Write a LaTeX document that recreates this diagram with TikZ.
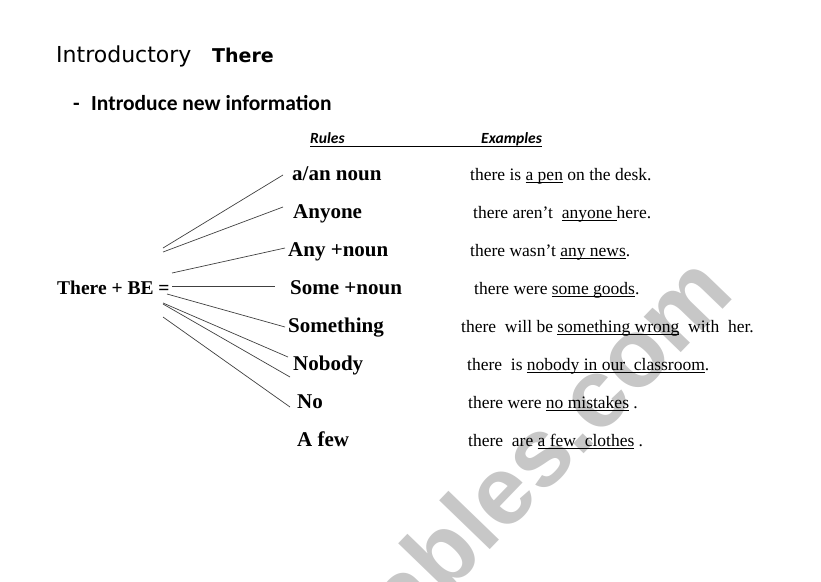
\documentclass[tikz,border=0pt]{standalone}
\usepackage{fontspec}
\setmainfont{Liberation Serif}
\newfontfamily\calfont{Carlito}
\newfontfamily\handfont{DejaVu Sans}
\newfontfamily\wmfont{Liberation Sans}
\usetikzlibrary{calc}
\newcommand\ulx[1]{\setbox0\hbox{#1}\rlap{\rule[-2.4pt]{\wd0}{0.8pt}}\box0\relax}
\begin{document}
\begin{tikzpicture}[x=1pt,y=-1pt,
  rule/.style={anchor=base west, inner sep=0pt, font=\fontsize{21}{25}\selectfont\bfseries},
  ex/.style={anchor=base west, inner sep=0pt, font=\fontsize{17.5}{21}\selectfont},
  hdr/.style={anchor=base west, inner sep=0pt, font=\calfont\fontsize{15.5}{18}\selectfont\bfseries\itshape},
  conn/.style={draw=black!75, line width=0.7pt}]
\useasboundingbox (0,0) rectangle (821,581);
\begin{scope}
\clip (0,0) rectangle (821,581);
\node[anchor=base east, rotate=46, inner sep=0pt, text=black!22,
  font=\wmfont\fontsize{97}{100}\selectfont\bfseries] (wm) at (737,295) {eslprintables.com};
\end{scope}
% title
\node[anchor=base west, inner sep=0pt, font=\handfont\fontsize{22}{26}\selectfont] (title) at (56,62) {Introductory};
\node[anchor=base west, inner sep=0pt, font=\handfont\fontsize{19}{22}\selectfont\bfseries] (there) at (212,62) {There};
\node[anchor=base west, inner sep=0pt, font=\calfont\fontsize{21.5}{25}\selectfont\bfseries] (dash) at (73,110) {-};
\node[anchor=base west, inner sep=0pt, font=\calfont\fontsize{21.5}{25}\selectfont\bfseries] (sub) at (91,110) {Introduce new information};
% header
\node[hdr] (rules) at (310,143) {Rules};
\node[hdr] (examples) at (481,143) {Examples};
\draw[line width=0.7pt] ($(rules.base west)+(0,3.5)$) -- ($(examples.base east)+(0,3.5)$);
% left node
\node[anchor=base west, inner sep=0pt, font=\fontsize{19.5}{23}\selectfont\bfseries] (tb) at (57,294) {There + BE =};
% rules
\node[rule] (r1) at (292,180) {a/an noun};
\node[rule] (r2) at (293,218) {Anyone};
\node[rule] (r3) at (288,256) {Any +noun};
\node[rule] (r4) at (290,294) {Some +noun};
\node[rule] (r5) at (288,332) {Something};
\node[rule] (r6) at (293,370) {Nobody};
\node[rule] (r7) at (297,408) {No};
\node[rule] (r8) at (297,446) {A few};
% examples
\node[ex] (e1) at (470,180) {there is \ulx{a pen} on the desk.};
\node[ex] (e2) at (473,218) {there aren’t\ \ \ulx{anyone\ }here.};
\node[ex] (e3) at (470,256) {there wasn’t \ulx{any news}.};
\node[ex] (e4) at (474,294) {there were \ulx{some goods}.};
\node[ex] (e5) at (461,332) {there\ \ will be \ulx{something wrong}\ \ with\ \ her.};
\node[ex] (e6) at (467,370) {there\ \ is \ulx{nobody in our\ \ classroom}.};
\node[ex] (e7) at (468,408) {there were \ulx{no mistakes} .};
\node[ex] (e8) at (468,446) {there\ \ are \ulx{a few\ \ clothes} .};
% connector ends
\coordinate (s1) at (163,248); \coordinate (t1) at (283,175);
\coordinate (s2) at (163,252); \coordinate (t2) at (283,207);
\coordinate (s3) at (172,273); \coordinate (t3) at (285,248);
\coordinate (s4) at (172,286); \coordinate (t4) at (275,286);
\coordinate (s5) at (167,294); \coordinate (t5) at (285,327);
\coordinate (s6) at (163,303); \coordinate (t6) at (288,357);
\coordinate (s7) at (163,304); \coordinate (t7) at (290,377);
\coordinate (s8) at (163,317); \coordinate (t8) at (290,407);
\foreach \i in {1,...,8} {\draw[conn] (s\i) -- (t\i);}
\end{tikzpicture}
\end{document}
